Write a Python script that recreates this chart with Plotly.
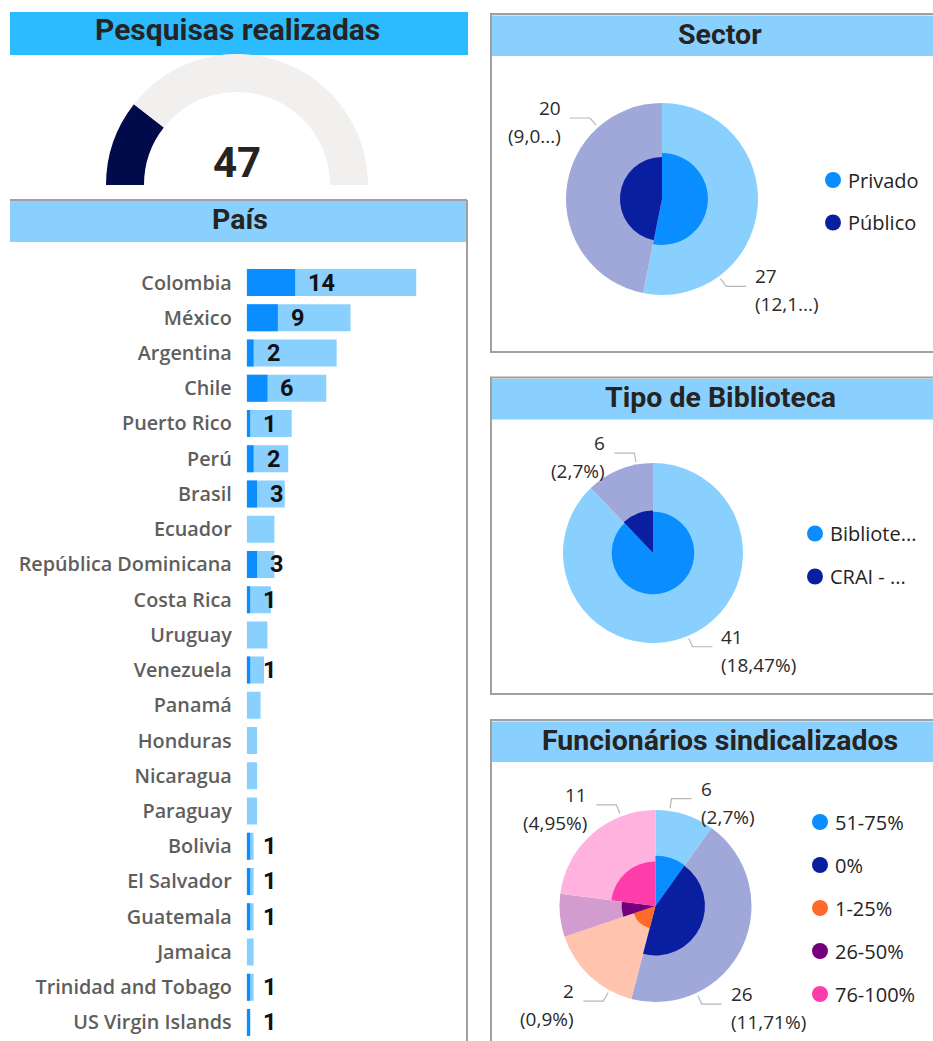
import math
import plotly.graph_objects as go

W, H = 933, 1041

# ---------------- data ----------------
paises = ["Colombia", "México", "Argentina", "Chile", "Puerto Rico", "Perú", "Brasil",
          "Ecuador", "República Dominicana", "Costa Rica", "Uruguay", "Venezuela",
          "Panamá", "Honduras", "Nicaragua", "Paraguay", "Bolivia", "El Salvador",
          "Guatemala", "Jamaica", "Trinidad and Tobago", "US Virgin Islands"]
bibliotecas_pais = [49, 30, 26, 23, 13, 12, 11, 8, 8, 7, 6, 5, 4, 3, 3, 3, 2, 2, 2, 2, 2, 1]
pesquisas_pais = [14, 9, 2, 6, 1, 2, 3, 0, 3, 1, 0, 1, 0, 0, 0, 0, 1, 1, 1, 0, 1, 1]

sector_cat = ["Privado", "Público"]
sector_bibliotecas = [118, 104]
sector_pesquisas = [27, 20]

tipo_cat = ["Biblioteca", "CRAI - Centro de Recursos para el Aprendizaje y la Investigación"]
tipo_bibliotecas = [195, 27]
tipo_pesquisas = [41, 6]

sind_cat = ["51-75%", "0%", "1-25%", "26-50%", "76-100%"]
sind_bibliotecas = [22, 98, 35, 16, 51]
sind_pesquisas = [6, 26, 2, 2, 11]

TOTAL_BIB = sum(bibliotecas_pais)
TOTAL_PESQ = sum(pesquisas_pais)

# ---------------- styles ----------------
STRONG = ["#0A8DFF", "#0A1FA0", "#FF6A2B", "#74007E", "#FF3DAA"]
SOFT = ["#8AD0FF", "#A0A8DA", "#FFC3AE", "#D29DCE", "#FFB2DE"]
BAND = "#8AD0FF"
BORDER = "#A0A0A0"
TITLE_FONT = dict(family="Roboto", size=28.5, color="#252423", weight=700)
LABEL_FONT = dict(family="Open Sans", size=19, color="#2B2A29")
LEGEND_FONT = dict(family="Open Sans", size=20, color="#252423")

shapes, annotations = [], []


def px(x):
    return x / W


def py(y):
    return 1 - y / H


def rect(x0, y0, x1, y1, fill=None, line=None, width=0):
    shapes.append(dict(type="rect", xref="paper", yref="paper", layer="below",
                       x0=px(x0), x1=px(x1), y0=py(y1), y1=py(y0),
                       fillcolor=fill or "rgba(0,0,0,0)",
                       line=dict(color=line or "rgba(0,0,0,0)", width=width)))


def hline(x0, x1, y):
    shapes.append(dict(type="line", xref="paper", yref="paper", layer="below",
                       x0=px(x0), x1=px(x1), y0=py(y), y1=py(y),
                       line=dict(color=BORDER, width=2)))


def vline(x, y0, y1):
    shapes.append(dict(type="line", xref="paper", yref="paper", layer="below",
                       x0=px(x), x1=px(x), y0=py(y0), y1=py(y1),
                       line=dict(color=BORDER, width=2)))


def title(text, x, y, size=None):
    font = dict(TITLE_FONT)
    if size:
        font["size"] = size
    annotations.append(dict(text=text, x=px(x), y=py(y), xref="paper", yref="paper",
                            showarrow=False, xanchor="center", yanchor="middle", font=font))


def pct_text(v, cut=False):
    s = f"{100 * v / TOTAL_BIB:.2f}".rstrip("0").rstrip(".").replace(".", ",") + "%"
    return s[:-2] + "..." if cut else s


def fit(label, budget=8.5):
    used, out = 0.0, ""
    for ch in label:
        w = 1.3 if ch.isupper() else 1.0
        if used + w > budget:
            return out + "..."
        used += w
        out += ch
    return out


# ---------------- panels ----------------
rect(10, 12, 468, 55, fill="#2DBBFF")
title("Pesquisas realizadas", 237, 30, size=30)

hline(10, 467, 200)
rect(10, 201, 466, 242, fill=BAND)
vline(467, 200, 1045)
title("País", 240, 219)

for (top, bottom, name) in [(14, 352, "Sector"), (377.5, 694, "Tipo de Biblioteca"),
                            (720, 1050, "Funcionários sindicalizados")]:
    rect(491, top, 945, bottom, fill="white", line=BORDER, width=2)
    rect(492, top + 1.5, 945, top + 42, fill=BAND)
    title(name, 720, top + 20)

traces = []

# ---------------- gauge ----------------
gx, gy, gr = 237, 185, 131
traces.append(go.Pie(
    values=[TOTAL_PESQ, TOTAL_BIB - TOTAL_PESQ, TOTAL_BIB],
    marker=dict(colors=["#010A4A", "#F1F0EF", "rgba(0,0,0,0)"], line=dict(width=0)),
    hole=0.71, sort=False, direction="clockwise", rotation=-90,
    textinfo="none", hoverinfo="skip", showlegend=False,
    domain=dict(x=[px(gx - gr), px(gx + gr)], y=[py(gy + gr), py(gy - gr)])))
annotations.append(dict(text=str(TOTAL_PESQ), x=px(gx), y=py(162), xref="paper", yref="paper",
                        showarrow=False, xanchor="center", yanchor="middle",
                        font=dict(family="Roboto", size=42, color="#252423", weight=700)))

# ---------------- country bars ----------------
traces.append(go.Bar(y=paises, x=bibliotecas_pais, orientation="h", marker_color=SOFT[0],
                     marker_line_width=0, hoverinfo="skip", xaxis="x", yaxis="y"))
traces.append(go.Bar(y=paises, x=pesquisas_pais, orientation="h", marker_color=STRONG[0],
                     marker_line_width=0, hoverinfo="skip", xaxis="x", yaxis="y"))
for p, v in zip(paises, pesquisas_pais):
    if v:
        annotations.append(dict(text=str(v), x=v, y=p, xref="x", yref="y", showarrow=False,
                                xanchor="left", yanchor="middle", xshift=11,
                                font=dict(family="Roboto", size=23.5, color="#111111", weight=700)))

# ---------------- nested donuts ----------------
RMAX = 1.4
polars = {}


def nested(key, cx, cy, R, cats, bib, pesq, label_angles, legend_pos, cut=False, fit_names=False):
    rad = R * RMAX
    polars[key] = dict(domain=dict(x=[px(cx - rad), px(cx + rad)], y=[py(cy + rad), py(cy - rad)]),
                       radialaxis=dict(range=[0, RMAX], visible=False),
                       angularaxis=dict(rotation=90, direction="clockwise", visible=False),
                       bgcolor="rgba(0,0,0,0)", hole=0, barmode="overlay")
    tot = sum(bib)
    spans = [360 * b / tot for b in bib]
    centers, acc = [], 0.0
    for s in spans:
        centers.append(acc + s / 2)
        acc += s
    n = len(cats)
    # outer ring: share of libraries; inner wedge: area scaled by surveys answered
    traces.append(go.Barpolar(r=[b / b for b in bib], theta=centers, width=spans,
                              marker=dict(color=SOFT[:n], line=dict(width=0)),
                              hoverinfo="skip", subplot=key))
    traces.append(go.Barpolar(r=[math.sqrt(p / b) for p, b in zip(pesq, bib)], theta=centers,
                              width=spans, marker=dict(color=STRONG[:n], line=dict(width=0)),
                              hoverinfo="skip", subplot=key))
    # outside labels with elbow leader lines
    for v, ang in zip(pesq, label_angles):
        if ang is None:
            continue
        a = math.radians(ang)
        sx, sy = math.sin(a), -math.cos(a)
        side = 1 if sx >= 0 else -1
        p0 = (R * 1.03 * sx, R * 1.03 * sy)
        p1 = (R * 1.13 * sx, R * 1.13 * sy)
        p2 = (p1[0] + side * 20, p1[1])
        pts = [p0, p1, p2]
        traces.append(go.Scatterpolar(
            r=[math.hypot(x, y) / R for x, y in pts],
            theta=[math.degrees(math.atan2(x, -y)) % 360 for x, y in pts],
            mode="lines", line=dict(color="#B8B8B8", width=1.2), hoverinfo="skip", subplot=key))
        ex, ey = cx + p2[0] + side * 7, cy + p2[1]
        anchor = "left" if side > 0 else "right"
        annotations.append(dict(text=str(v), x=px(ex), y=py(ey - 10), xref="paper", yref="paper",
                                showarrow=False, xanchor=anchor, yanchor="middle", font=LABEL_FONT))
        annotations.append(dict(text=f"({pct_text(v, cut)})", x=px(ex), y=py(ey + 18),
                                xref="paper", yref="paper", showarrow=False, xanchor=anchor,
                                yanchor="middle", font=LABEL_FONT))
    # legend
    lx, ly0, step = legend_pos
    for i, c in enumerate(cats):
        yy = ly0 + i * step
        shapes.append(dict(type="circle", xref="paper", yref="paper",
                           x0=px(lx - 8), x1=px(lx + 8), y0=py(yy + 8), y1=py(yy - 8),
                           fillcolor=STRONG[i], line=dict(width=0)))
        annotations.append(dict(text=fit(c) if fit_names else c, x=px(lx + 13), y=py(yy),
                                xref="paper", yref="paper", showarrow=False, xanchor="left",
                                yanchor="middle", font=LEGEND_FONT))


nested("polar", 662, 199, 96, sector_cat, sector_bibliotecas, sector_pesquisas,
       [143.7, 318.3], (833, 180, 42.5), cut=True)
nested("polar2", 653, 553, 90, tipo_cat, tipo_bibliotecas, tipo_pesquisas,
       [157.2, 349.4], (815, 533.5, 43), fit_names=True)
nested("polar3", 655.5, 906, 96, sind_cat, sind_bibliotecas, sind_pesquisas,
       [8.5, 154.7, 208.7, None, 338.9], (820, 822, 43))

fig = go.Figure(traces)
fig.update_layout(
    width=W, height=H, margin=dict(l=0, r=0, t=0, b=0),
    paper_bgcolor="white", plot_bgcolor="rgba(0,0,0,0)", showlegend=False,
    barmode="overlay", bargap=0.234, hovermode=False,
    xaxis=dict(domain=[px(246.7), px(246.7 + 60 * 3.46)], range=[0, 60], visible=False,
               fixedrange=True),
    yaxis=dict(domain=[py(1040), py(265)], autorange="reversed", showgrid=False,
               zeroline=False, showline=False, ticks="outside", ticklen=10,
               tickcolor="rgba(0,0,0,0)",
               tickfont=dict(family="Open Sans", size=19.8, color="#605E5C", weight=600)),
    shapes=shapes, annotations=annotations,
    **polars,
)
fig.write_html("out.html")
